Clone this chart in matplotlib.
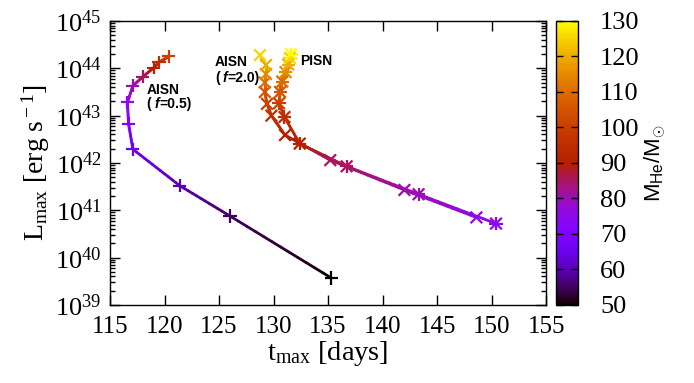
import numpy as np
import matplotlib
matplotlib.use("Agg")
import matplotlib.pyplot as plt
from matplotlib.collections import LineCollection
from matplotlib.colors import Normalize
from matplotlib.ticker import LogLocator, NullFormatter
from matplotlib.transforms import offset_copy

plt.rcParams['font.family'] = ['Liberation Serif', 'DejaVu Serif']
plt.rcParams['mathtext.fontset'] = 'custom'
plt.rcParams['mathtext.rm'] = 'Liberation Serif'
plt.rcParams['mathtext.it'] = 'Liberation Serif:italic'
plt.rcParams['mathtext.sf'] = 'Liberation Sans'

# ---- data ----
# AISN f=0.5
t_f05 = [135.3, 126.0, 121.4, 117.1, 116.7, 116.6, 117.1, 118.0, 119.0, 119.5, 120.4]
logL_f05 = [39.57, 40.88, 41.52, 42.29, 42.83, 43.28, 43.63, 43.82, 44.01, 44.13, 44.25]
M_f05 = [50, 55, 60, 65, 70, 75, 80, 85, 90, 95, 100]

# AISN f=2.0
t_f20 = [148.6, 142.0, 135.2, 131.05, 129.8, 129.4, 129.2, 129.2, 129.3, 129.3, 128.75]
logL_f20 = [40.85, 41.43, 42.06, 42.59, 43.0, 43.25, 43.5, 43.7, 43.88, 44.07, 44.28]
M_f20 = [75, 80, 85, 90, 95, 100, 105, 110, 115, 120, 125]

# PISN
t_pisn = [150.4, 143.3, 136.7, 132.4, 131.0, 130.5, 130.6, 130.8, 131.1, 131.35, 131.5, 131.6]
logL_pisn = [40.72, 41.34, 41.93, 42.41, 42.97, 43.26, 43.5, 43.72, 43.92, 44.08, 44.22, 44.3]
M_pisn = [75, 80, 85, 90, 95, 100, 105, 110, 115, 120, 125, 130]

xticks = [115, 120, 125, 130, 135, 140, 145, 150, 155]
cbticks = [50, 60, 70, 80, 90, 100, 110, 120, 130]

cmap = plt.get_cmap('gnuplot')
norm = Normalize(50, 130)

fig = plt.figure(figsize=(6.94, 3.83), dpi=100)
ax = fig.add_axes([0.1585, 0.2037, 0.6285, 0.7415])
cax = fig.add_axes([0.801, 0.2037, 0.0317, 0.7415])


def grad_line(t, lg, m, lw=2.0):
    segs, cols = [], []
    n = 12
    for i in range(len(t) - 1):
        for k in range(n):
            a, b = k / n, (k + 1) / n
            x0 = t[i] + (t[i + 1] - t[i]) * a
            x1 = t[i] + (t[i + 1] - t[i]) * b
            y0 = lg[i] + (lg[i + 1] - lg[i]) * a
            y1 = lg[i] + (lg[i + 1] - lg[i]) * b
            segs.append([(x0, 10 ** y0), (x1, 10 ** y1)])
            cols.append(m[i] + (m[i + 1] - m[i]) * (a + b) / 2)
    lc = LineCollection(segs, cmap=cmap, norm=norm, linewidths=lw, capstyle='round')
    lc.set_array(np.array(cols))
    ax.add_collection(lc)


grad_line(t_f05, logL_f05, M_f05)
grad_line(t_f20, logL_f20, M_f20)
grad_line(t_pisn, logL_pisn, M_pisn)

L_f05 = 10 ** np.array(logL_f05)
L_f20 = 10 ** np.array(logL_f20)
L_pisn = 10 ** np.array(logL_pisn)

ax.scatter(t_f05, L_f05, c=M_f05, cmap=cmap, norm=norm, marker='+', s=90, linewidths=1.6, zorder=3)
ax.scatter(t_f20, L_f20, c=M_f20, cmap=cmap, norm=norm, marker='x', s=70, linewidths=1.6, zorder=3)
ax.scatter(t_pisn, L_pisn, c=M_pisn, cmap=cmap, norm=norm, marker='+', s=90, linewidths=1.6, zorder=3)
ax.scatter(t_pisn, L_pisn, c=M_pisn, cmap=cmap, norm=norm, marker='x', s=70, linewidths=1.6, zorder=3)

ax.set_yscale('log')
ax.set_xlim(115, 155)
ax.set_ylim(1e39, 1e45)
ax.set_xticks(xticks)
ax.set_xticklabels([str(v) for v in xticks])
ax.yaxis.set_major_locator(LogLocator(base=10, numticks=10))
ax.yaxis.set_minor_locator(LogLocator(base=10, subs=np.arange(2, 10), numticks=100))
ax.yaxis.set_minor_formatter(NullFormatter())
ax.tick_params(which='both', direction='in', top=True, right=True, width=1.0)
ax.tick_params(axis='x', labelsize=18, pad=8)
ax.tick_params(axis='y', labelsize=19, pad=6)
ax.tick_params(which='major', length=7)
ax.tick_params(which='minor', length=3.5)
for s in ax.spines.values():
    s.set_linewidth(1.0)

ax.set_xlabel(r't$_{\rm max}$ [days]', fontsize=20.5, labelpad=1)
ax.set_ylabel(r'L$_{\rm max}$ [erg s$^{\rm -1}$]', fontsize=20, labelpad=2)

sans = ['Liberation Sans', 'DejaVu Sans']


def pieces(x, y, parts, fs=10):
    fig.canvas.draw()
    r = fig.canvas.get_renderer()
    trans = ax.transData
    dx = 0.0
    for s, style, extra in parts:
        tr = offset_copy(trans, fig=fig, x=dx, y=0, units='dots')
        t = ax.text(x, y, s, fontsize=fs, family=sans, style=style, weight='bold',
                    ha='left', va='center', transform=tr)
        bb = t.get_window_extent(renderer=r)
        dx += bb.width + extra


ax.text(118.37, 10 ** 43.54, 'AISN', fontsize=10, family=sans, weight='bold', ha='left', va='center')
pieces(118.37, 10 ** 43.25, [('(', 'normal', 3), ('f', 'italic', 0), ('=0.5)', 'normal', 0)])
ax.text(124.63, 10 ** 44.14, 'AISN', fontsize=10, family=sans, weight='bold', ha='left', va='center')
pieces(124.63, 10 ** 43.79, [('(', 'normal', 3), ('f', 'italic', 0), ('=2.0)', 'normal', 0)])
ax.text(132.43, 10 ** 44.15, 'PISN', fontsize=10, family=sans, weight='bold', ha='left', va='center')

cb = fig.colorbar(plt.cm.ScalarMappable(norm=norm, cmap=cmap), cax=cax)
cb.set_ticks(cbticks)
cb.ax.tick_params(direction='in', length=5, left=True, right=True, labelsize=19, width=1.0, pad=16)
cb.outline.set_linewidth(1.0)
cb.set_label(r'$\mathsf{M_{He}/M_{\odot}}$', fontsize=16, labelpad=2)

fig.savefig('out.png', dpi=100)
